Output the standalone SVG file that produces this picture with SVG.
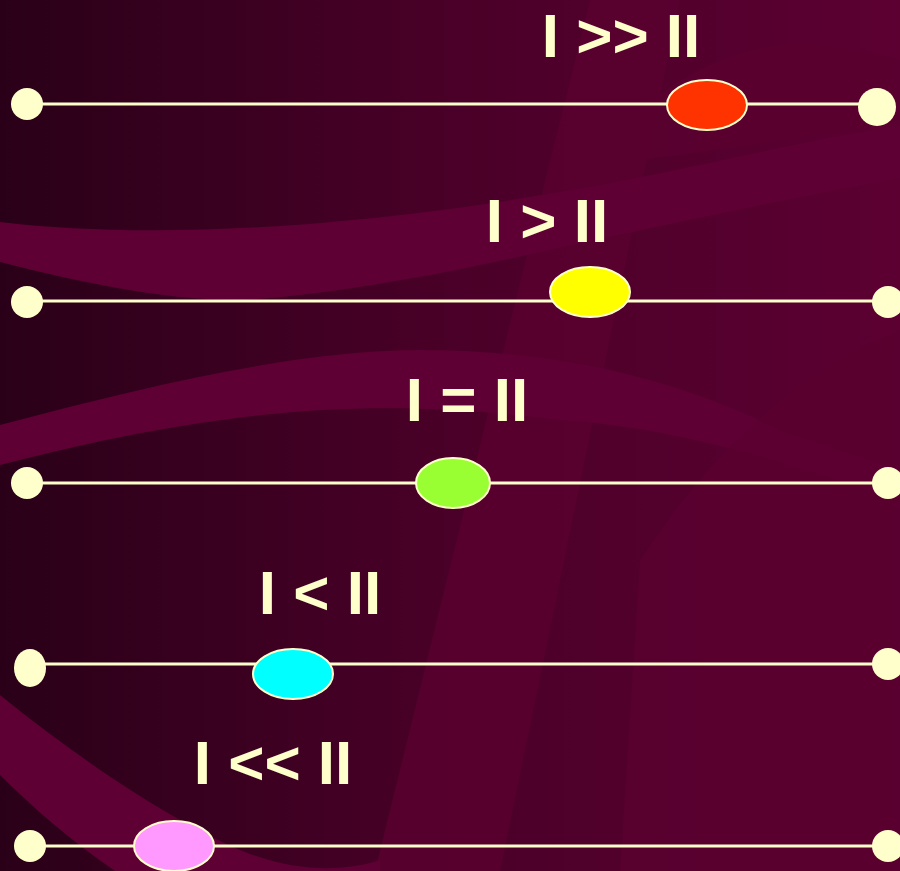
<svg xmlns="http://www.w3.org/2000/svg" width="900" height="871" viewBox="0 0 900 871">
<defs>
<linearGradient id="bg" x1="0" y1="0" x2="1" y2="0">
<stop offset="0" stop-color="#2a0018"/>
<stop offset="0.5" stop-color="#4a0028"/>
<stop offset="1" stop-color="#5c0032"/>
</linearGradient>
<style>
.sw{fill:#5e0033;}
.sw2{fill:#5a0030;opacity:0.8;}
.conn{stroke:#ffffcc;stroke-width:3;fill:none;}
.end{fill:#ffffcc;}
.knob{stroke:#ffffcc;stroke-width:2;}
.lbl{font-family:"Liberation Sans",Arial,sans-serif;font-weight:bold;font-size:62px;fill:#ffffcc;text-anchor:middle;}
</style>
</defs>
<g id="background">
<rect x="0" y="0" width="900" height="871" fill="url(#bg)"/>
<path class="sw2" d="M640,110 C700,60 760,40 820,45 C860,48 885,55 900,60 L900,120 C820,135 720,150 640,160 Z"/>
<path class="sw2" d="M590,0 L680,0 L500,871 L375,871 Z"/>
<path class="sw" d="M0,222 C150,240 350,228 560,192 C700,168 800,140 900,126 L900,178 C780,200 650,228 540,252 C420,280 300,298 240,300 C160,300 80,282 0,262 Z"/>
<path class="sw" d="M0,425 C150,385 300,350 420,350 C560,350 680,380 780,430 L900,470 L900,500 C800,470 700,430 560,420 C400,400 250,400 0,465 Z"/>
<path class="sw2" d="M640,560 C700,470 780,380 900,330 L900,871 L620,871 Z"/>
<path class="sw" d="M0,695 C80,760 170,820 240,850 C300,875 350,870 380,860 L380,871 L115,871 C70,840 30,805 0,775 Z"/>
</g>
<g id="connectors">
<line class="conn" x1="27" y1="104" x2="877" y2="104"/>
<line class="conn" x1="27" y1="301" x2="888" y2="301"/>
<line class="conn" x1="27" y1="483" x2="888" y2="483"/>
<line class="conn" x1="30" y1="664" x2="888" y2="664"/>
<line class="conn" x1="30" y1="846" x2="888" y2="846"/>
</g>
<g id="row1">
<circle class="end" cx="27" cy="104" r="16"/>
<circle class="end" cx="877" cy="107" r="19"/>
<ellipse class="knob" cx="707" cy="105" rx="40" ry="25" fill="#ff3300"/>
<text class="lbl" x="621" y="57">I &gt;&gt; II</text>
</g>
<g id="row2">
<ellipse class="end" cx="27" cy="302" rx="16" ry="16"/>
<ellipse class="end" cx="888" cy="302" rx="16" ry="16"/>
<ellipse class="knob" cx="590" cy="292" rx="40" ry="25" fill="#ffff00"/>
<text class="lbl" x="547" y="242">I &gt; II</text>
</g>
<g id="row3">
<ellipse class="end" cx="27" cy="483" rx="16" ry="16"/>
<ellipse class="end" cx="888" cy="483" rx="16" ry="16"/>
<ellipse class="knob" cx="453" cy="483" rx="37" ry="25" fill="#99ff33"/>
<text class="lbl" x="467" y="421">I = II</text>
</g>
<g id="row4">
<ellipse class="end" cx="30" cy="668" rx="16" ry="19"/>
<ellipse class="end" cx="888" cy="664" rx="16" ry="16"/>
<ellipse class="knob" cx="293" cy="674" rx="40" ry="25" fill="#00ffff"/>
<text class="lbl" x="320" y="614">I &lt; II</text>
</g>
<g id="row5">
<ellipse class="end" cx="30" cy="846" rx="16" ry="16"/>
<ellipse class="end" cx="888" cy="846" rx="16" ry="16"/>
<ellipse class="knob" cx="174" cy="846" rx="40" ry="25" fill="#ff99ff"/>
<text class="lbl" x="273" y="784">I &lt;&lt; II</text>
</g>
</svg>
